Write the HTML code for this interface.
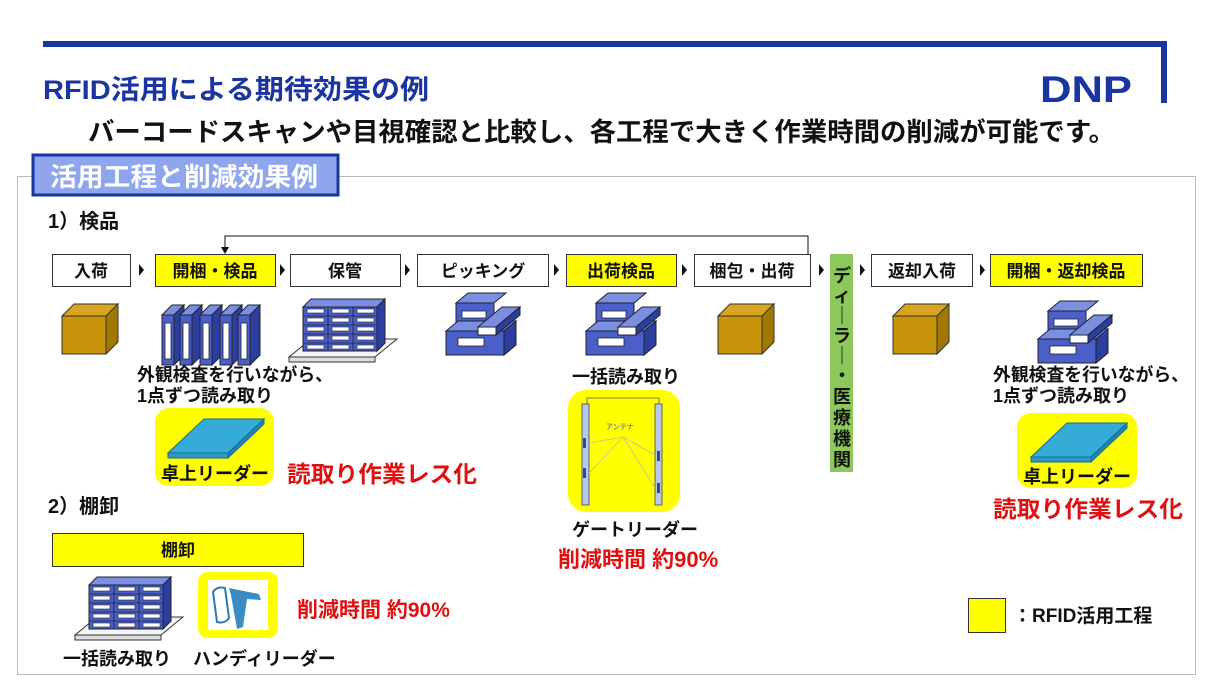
<!DOCTYPE html>
<html><head><meta charset="utf-8"><style>
html,body{margin:0;padding:0;background:#fff;}
svg{display:block;}
text{font-family:"Liberation Sans","Noto Sans CJK JP",sans-serif;font-weight:bold;}
</style></head><body>
<svg width="1210" height="680" viewBox="0 0 1210 680" xmlns="http://www.w3.org/2000/svg">
<defs>
<g id="box">
<polygon points="0,12 12,0 56,0 44,12" fill="#d9a520" stroke="#333" stroke-width="1"/>
<polygon points="44,12 56,0 56,38 44,50" fill="#a37800" stroke="#333" stroke-width="1"/>
<rect x="0" y="12" width="44" height="38" fill="#c8950a" stroke="#333" stroke-width="1"/>
</g>
<g id="cases">
<polygon points="10,10 22,0 60,0 48,10" fill="#7b8fe0" stroke="#223" stroke-width="1"/>
<rect x="10" y="10" width="38" height="22" fill="#4a5fc8" stroke="#223" stroke-width="1"/>
<rect x="16" y="18" width="24" height="7" fill="#fff" stroke="#223" stroke-width=".8"/>
<polygon points="0,38 12,28 70,28 58,38" fill="#7b8fe0" stroke="#223" stroke-width="1"/>
<polygon points="58,38 70,28 70,52 58,62" fill="#2d3f9e" stroke="#223" stroke-width="1"/>
<rect x="0" y="38" width="58" height="24" fill="#4a5fc8" stroke="#223" stroke-width="1"/>
<rect x="12" y="45" width="26" height="8" fill="#fff" stroke="#223" stroke-width=".8"/>
<polygon points="32,34 56,14 74,14 50,34" fill="#7b8fe0" stroke="#223" stroke-width="1"/>
<polygon points="50,34 74,14 74,22 50,42" fill="#2d3f9e" stroke="#223" stroke-width="1"/>
<rect x="32" y="34" width="18" height="8" fill="#fff" stroke="#223" stroke-width="1"/>
</g>
<g id="binder">
<polygon points="0,10 10,0 22,0 12,10" fill="#7b8fe0" stroke="#223" stroke-width="1"/>
<polygon points="12,10 22,0 22,50 12,60" fill="#2d3f9e" stroke="#223" stroke-width="1"/>
<rect x="0" y="10" width="12" height="50" fill="#4a5fc8" stroke="#223" stroke-width="1"/>
<rect x="3" y="18" width="6" height="36" fill="#fff" stroke="#223" stroke-width=".8"/>
</g>
<g id="rack">
<polygon points="0,58 22,40 108,40 86,58" fill="#f4f4f4" stroke="#333" stroke-width="1"/>
<rect x="0" y="58" width="86" height="5" fill="#ddd" stroke="#333" stroke-width="1"/>
<g fill="#4a5fc8" stroke="#223" stroke-width="1">
<polygon points="14,8 22,0 96,0 88,8" fill="#7b8fe0"/>
<rect x="14" y="8" width="74" height="44"/>
<polygon points="88,8 96,0 96,44 88,52" fill="#2d3f9e"/>
</g>
<g stroke="#223" stroke-width=".8">
<line x1="39" y1="8" x2="39" y2="52"/><line x1="64" y1="8" x2="64" y2="52"/>
<line x1="14" y1="17" x2="88" y2="17"/><line x1="14" y1="26" x2="88" y2="26"/><line x1="14" y1="35" x2="88" y2="35"/><line x1="14" y1="44" x2="88" y2="44"/>
</g>
<g fill="#fff" stroke="#223" stroke-width=".6">
<rect x="18" y="10" width="17" height="4"/><rect x="43" y="10" width="17" height="4"/><rect x="68" y="10" width="17" height="4"/>
<rect x="18" y="19" width="17" height="4"/><rect x="43" y="19" width="17" height="4"/><rect x="68" y="19" width="17" height="4"/>
<rect x="18" y="28" width="17" height="4"/><rect x="43" y="28" width="17" height="4"/><rect x="68" y="28" width="17" height="4"/>
<rect x="18" y="37" width="17" height="4"/><rect x="43" y="37" width="17" height="4"/><rect x="68" y="37" width="17" height="4"/>
<rect x="18" y="46" width="17" height="4"/><rect x="43" y="46" width="17" height="4"/><rect x="68" y="46" width="17" height="4"/>
</g>
</g>
<g id="reader">
<polygon points="0,34 36,0 96,0 60,34" fill="#35acd8" stroke="#1a6a90" stroke-width="1"/>
<polygon points="60,34 96,0 96,5 60,39" fill="#1e86b0" stroke="#1a6a90" stroke-width="1"/>
<rect x="0" y="34" width="60" height="5" fill="#2a9ac8" stroke="#1a6a90" stroke-width="1"/>
</g>
<polygon id="tri" points="0,0 5,6 0,12" fill="#111"/>
</defs>

<!-- header -->
<rect x="43" y="41" width="1124" height="6" fill="#1a35a0"/>
<rect x="1161" y="41" width="6" height="62" fill="#1a35a0"/>
<text x="43" y="99" font-size="27" fill="#1a35a0" textLength="386" lengthAdjust="spacingAndGlyphs">RFID活用による期待効果の例</text>
<text x="1040" y="102" font-size="37" fill="#1a35a0" font-family="Liberation Sans" textLength="92" lengthAdjust="spacingAndGlyphs">DNP</text>
<text x="88" y="141" font-size="26" fill="#111" textLength="1027" lengthAdjust="spacingAndGlyphs">バーコードスキャンや目視確認と比較し、各工程で大きく作業時間の削減が可能です。</text>

<rect x="17.5" y="176.5" width="1178" height="498" fill="none" stroke="#bbb" stroke-width="1"/>
<rect x="33" y="155" width="305" height="40" fill="#8fa6ee" stroke="#1a35a0" stroke-width="3"/>
<text x="50" y="186" font-size="26" fill="#fff" textLength="268" lengthAdjust="spacingAndGlyphs">活用工程と削減効果例</text>

<text x="48" y="228" font-size="20" fill="#111">1）検品</text>

<!-- feedback -->
<polyline points="808,254 808,236 225,236 225,248" fill="none" stroke="#111" stroke-width="1"/>
<polygon points="221,247 229,247 225,254" fill="#111"/>

<!-- process boxes -->
<g stroke="#333" stroke-width="1">
<rect x="52.5" y="254.5" width="78" height="32" fill="#fff"/>
<rect x="155.5" y="254.5" width="120" height="32" fill="#ffff00"/>
<rect x="290.5" y="254.5" width="110" height="32" fill="#fff"/>
<rect x="417.5" y="254.5" width="131" height="32" fill="#fff"/>
<rect x="566.5" y="254.5" width="110" height="32" fill="#ffff00"/>
<rect x="694.5" y="254.5" width="116" height="32" fill="#fff"/>
<rect x="871.5" y="254.5" width="101" height="32" fill="#fff"/>
<rect x="990.5" y="254.5" width="152" height="32" fill="#ffff00"/>
</g>
<rect x="830" y="254" width="23" height="218" fill="#8dc85a"/>
<g font-size="17" fill="#111" text-anchor="middle">
<text x="91" y="277">入荷</text>
<text x="215" y="277">開梱・検品</text>
<text x="345" y="277">保管</text>
<text x="483" y="277">ピッキング</text>
<text x="621" y="277">出荷検品</text>
<text x="752" y="277">梱包・出荷</text>
<text x="922" y="277">返却入荷</text>
<text x="1066" y="277">開梱・返却検品</text>
</g>
<g font-size="18" fill="#111" text-anchor="middle">
<text x="842" y="282">デ</text>
<text x="842" y="302">ィ</text>
<text x="842" y="322">｜</text>
<text x="842" y="342">ラ</text>
<text x="842" y="362">｜</text>
<text x="842" y="382">・</text>
<text x="842" y="403">医</text>
<text x="842" y="424">療</text>
<text x="842" y="445">機</text>
<text x="842" y="466">関</text>
</g>

<use href="#tri" x="139" y="264"/><use href="#tri" x="280" y="264"/><use href="#tri" x="405" y="264"/>
<use href="#tri" x="554" y="264"/><use href="#tri" x="682" y="264"/><use href="#tri" x="819" y="264"/>
<use href="#tri" x="860" y="264"/><use href="#tri" x="980" y="264"/>

<!-- icons -->
<use href="#box" x="62" y="304"/>
<use href="#binder" x="162" y="305"/><use href="#binder" x="180" y="305"/><use href="#binder" x="200" y="305"/><use href="#binder" x="220" y="305"/><use href="#binder" x="238" y="305"/>
<use href="#rack" x="289" y="299"/>
<use href="#cases" x="446" y="293"/>
<use href="#cases" x="586" y="293"/>
<use href="#box" x="718" y="304"/>
<use href="#box" x="893" y="304"/>
<use href="#cases" x="1038" y="301"/>

<g font-size="18" fill="#111">
<text x="137" y="381" textLength="196" lengthAdjust="spacingAndGlyphs">外観検査を行いながら、</text>
<text x="137" y="402">1点ずつ読み取り</text>
<text x="993" y="381" textLength="196" lengthAdjust="spacingAndGlyphs">外観検査を行いながら、</text>
<text x="993" y="402">1点ずつ読み取り</text>
<text x="572" y="383">一括読み取り</text>
<text x="572" y="536">ゲートリーダー</text>
</g>

<!-- desk readers -->
<rect x="155" y="408" width="119" height="78" rx="14" fill="#ffff00"/>
<use href="#reader" x="168" y="419"/>
<text x="161" y="480" font-size="18" fill="#111">卓上リーダー</text>
<text x="287" y="482" font-size="23" fill="#e01010" textLength="190" lengthAdjust="spacingAndGlyphs">読取り作業レス化</text>

<rect x="1017" y="413" width="120" height="75" rx="14" fill="#ffff00"/>
<use href="#reader" x="1031" y="423"/>
<text x="1023" y="483" font-size="18" fill="#111">卓上リーダー</text>
<text x="993" y="517" font-size="23" fill="#e01010" textLength="190" lengthAdjust="spacingAndGlyphs">読取り作業レス化</text>

<!-- gate -->
<rect x="568" y="390" width="112" height="122" rx="18" fill="#ffff00"/>
<polyline points="587,404 587,398 659,398 659,404" fill="none" stroke="#555" stroke-width=".8"/>
<rect x="582" y="404" width="7" height="101" fill="#b8c8e8" stroke="#445" stroke-width=".8"/>
<rect x="655" y="404" width="7" height="101" fill="#b8c8e8" stroke="#445" stroke-width=".8"/>
<rect x="583" y="438" width="3" height="10" fill="#2a4a9a"/><rect x="583" y="468" width="3" height="10" fill="#2a4a9a"/>
<rect x="657" y="451" width="3" height="10" fill="#2a4a9a"/><rect x="657" y="483" width="3" height="10" fill="#2a4a9a"/>
<g stroke="#bbb" stroke-width=".8" fill="none">
<polyline points="589,443 623,437 655,455"/><polyline points="589,473 623,437 655,488"/>
</g>
<text x="606" y="429" font-size="7" fill="#888" font-weight="normal">アンテナ</text>
<text x="558" y="567" font-size="22" fill="#e01010">削減時間 約90%</text>

<!-- part 2 -->
<text x="48" y="513" font-size="20" fill="#111">2）棚卸</text>
<rect x="52.5" y="533.5" width="251" height="33" fill="#ffff00" stroke="#333" stroke-width="1"/>
<text x="178" y="556" font-size="17" fill="#111" text-anchor="middle">棚卸</text>
<use href="#rack" x="75" y="577"/>
<rect x="198" y="572" width="80" height="66" rx="10" fill="#ffff00"/>
<rect x="208" y="580" width="60" height="50" fill="#fff"/>
<path d="M213,592 q4,-6 12,-4 l4,30 q-4,6 -12,4 z" fill="#fff" stroke="#2a7ab0" stroke-width="2"/>
<path d="M229,588 l30,6 l2,6 l-14,-1 l-4,28 l-6,2 l-6,-34 z" fill="#3a8cc4"/>
<text x="297" y="617" font-size="21" fill="#e01010" font-weight="normal">削減時間 約90%</text>
<text x="63" y="665" font-size="18" fill="#111">一括読み取り</text>
<text x="193" y="665" font-size="18" fill="#111">ハンディリーダー</text>

<!-- legend -->
<rect x="968.5" y="598.5" width="37" height="34" fill="#ffff00" stroke="#333" stroke-width="1"/>
<text x="1013" y="622" font-size="19" fill="#111">：RFID活用工程</text>
</svg>
</body></html>
